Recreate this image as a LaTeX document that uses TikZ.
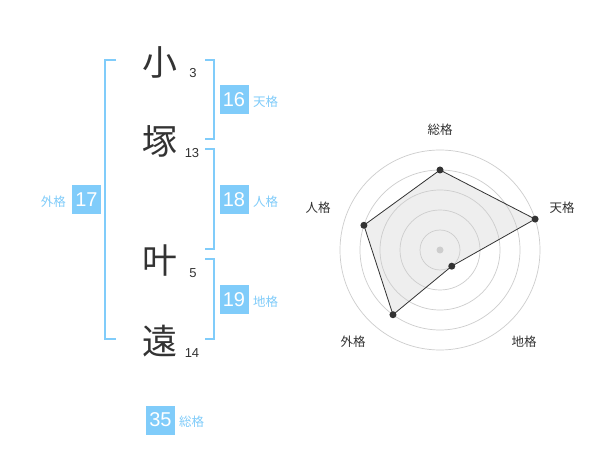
\documentclass[tikz,border=0pt]{standalone}
\usepackage{fontspec}
\usetikzlibrary{calc}
\newfontfamily\jp{Noto Sans CJK JP}
\newfontfamily\ar{Liberation Sans}
\definecolor{lblue}{RGB}{128,204,250}
\definecolor{dk}{RGB}{51,51,51}
\definecolor{ring}{RGB}{205,205,205}
\definecolor{polyfill}{RGB}{238,238,238}
\tikzset{
  br/.style={draw=lblue, line width=2pt},
  kanji/.style={font=\jp\fontsize{35}{35}\selectfont, text=dk, inner sep=0pt},
  strk/.style={font=\ar\fontsize{13}{13}\selectfont, text=dk, inner sep=0pt},
  numbox/.style={fill=lblue, text=white, font=\ar\fontsize{20}{20}\selectfont, minimum width=29pt, minimum height=29pt, inner sep=0pt},
  klab/.style={font=\jp\fontsize{12.5}{12.5}\selectfont, text=lblue, inner sep=0pt},
  rlab/.style={font=\jp\fontsize{12.5}{12.5}\selectfont, text=dk, inner sep=0pt},
  dot/.style={circle, fill=dk, inner sep=0pt, minimum size=7pt},
}
\begin{document}
\begin{tikzpicture}[x=1pt,y=-1pt]
\useasboundingbox (0,0) rectangle (600,470);
\fill[white] (0,0) rectangle (600,470);
% brackets
\draw[br] (116,60) -- (105,60) -- (105,339) -- (116,339);
\draw[br] (205,60) -- (214,60) -- (214,139) -- (205,139);
\draw[br] (205,149) -- (214,149) -- (214,249) -- (205,249);
\draw[br] (205,259) -- (214,259) -- (214,339) -- (205,339);
% characters
\node[kanji] (c1) at (160,62) {小};
\node[kanji] (c2) at (160,141) {塚};
\node[kanji] (c3) at (160,261) {叶};
\node[kanji] (c4) at (160,341) {遠};
\node[strk] (s1) at (193,73) {3};
\node[strk] (s2) at (192,153) {13};
\node[strk] (s3) at (193,273) {5};
\node[strk] (s4) at (192,353) {14};
% boxes
\node[numbox] (b16) at (234,100) {16};
\node[klab, anchor=west] (l16) at (253,102) {天格};
\node[numbox] (b18) at (234,200) {18};
\node[klab, anchor=west] (l18) at (253,202) {人格};
\node[numbox] (b19) at (234,300) {19};
\node[klab, anchor=west] (l19) at (253,302) {地格};
\node[numbox] (b17) at (86.5,200) {17};
\node[klab, anchor=east] (l17) at (66,202) {外格};
\node[numbox] (b35) at (160.5,420) {35};
\node[klab, anchor=west] (l35) at (179,422) {総格};
% radar
\coordinate (O) at (440,250);
\coordinate (pS) at ($(O)+(-90:80)$);
\coordinate (pT) at ($(O)+(-18:100)$);
\coordinate (pC) at ($(O)+(54:20)$);
\coordinate (pG) at ($(O)+(126:80)$);
\coordinate (pJ) at ($(O)+(198:80)$);
\fill[polyfill] (pS) -- (pT) -- (pC) -- (pG) -- (pJ) -- cycle;
\foreach \r in {20,40,60,80,100} \draw[ring, line width=0.7pt] (O) circle (\r);
\fill[ring] (O) circle (3.5);
\draw[draw=dk, line width=0.8pt] (pS) -- (pT) -- (pC) -- (pG) -- (pJ) -- cycle;
\foreach \p in {pS,pT,pC,pG,pJ} \node[dot] at (\p) {};
\node[rlab] (rS) at (440,130) {総格};
\node[rlab] (rT) at (562,208) {天格};
\node[rlab] (rC) at (524,342) {地格};
\node[rlab] (rG) at (353,342) {外格};
\node[rlab] (rJ) at (318,208) {人格};
\end{tikzpicture}
\end{document}
